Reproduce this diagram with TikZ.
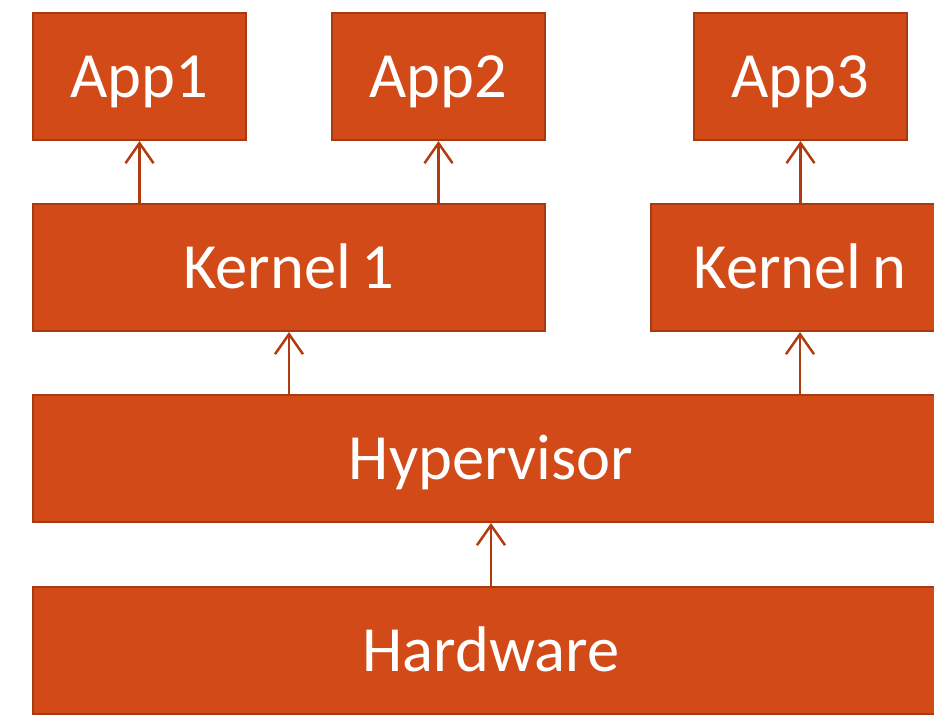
\documentclass[tikz,border=0pt]{standalone}
\usepackage{fontspec}
\setmainfont{Carlito}
\usetikzlibrary{arrows.meta}

\definecolor{boxfill}{RGB}{210,74,24}
\definecolor{boxline}{RGB}{168,58,16}
\definecolor{arrline}{RGB}{178,60,16}

\begin{document}
\begin{tikzpicture}[
  x=1pt,y=-1pt,
  font=\fontsize{64.5}{70}\selectfont,
  layer/.style={draw=boxline,line width=2pt,fill=boxfill,text=white,
    minimum height=127pt,inner sep=0pt,anchor=center,
    text height=45pt,text depth=4pt},
  up/.style={draw=arrline,line width=2.5pt,-{Straight Barb[length=20pt,width=28pt]}}
]
\clip (0,0) rectangle (934,720);
\useasboundingbox (0,0) rectangle (934,720);

% applications
\node[layer,minimum width=213pt] (app1) at (139.5,76.5) {App1};
\node[layer,minimum width=213pt] (app2) at (438.5,76.5) {App2};
\node[layer,minimum width=213pt] (app3) at (800.5,76.5) {App3};

% kernels
\node[layer,minimum width=512pt] (kern1) at (289,267.5) {Kernel\,1};
\node[layer,minimum width=298pt] (kernn) at (800,267.5) {Kernel\,n};

% hypervisor and hardware
\node[layer,minimum width=916pt] (hyp) at (491,458.5) {Hypervisor};
\node[layer,minimum width=916pt] (hw) at (491,650.5) {Hardware};

% arrows
\draw[up] (kern1.north -| app1.south) -- (app1.south);
\draw[up] (kern1.north -| app2.south) -- (app2.south);
\draw[up] (kernn.north -| app3.south) -- (app3.south);
\draw[up] (hyp.north -| kern1.south) -- (kern1.south);
\draw[up] (hyp.north -| kernn.south) -- (kernn.south);
\draw[up] (hw.north) -- (hyp.south);
\end{tikzpicture}
\end{document}
